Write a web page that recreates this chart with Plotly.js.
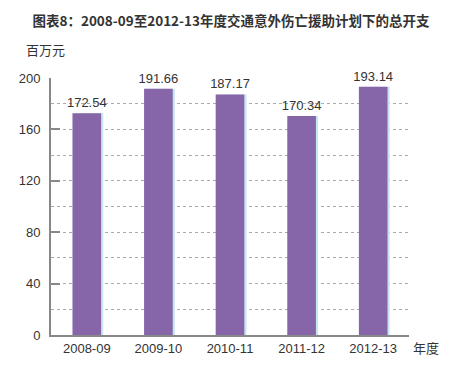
<!DOCTYPE html>
<html><head><meta charset="utf-8">
<script src="https://cdn.plot.ly/plotly-3.0.1.min.js"></script>
<style>body{margin:0;background:#fff}#c{width:462px;height:392px}</style>
</head><body><div id="c"></div>
<script>
const categories = ["2008-09","2009-10","2010-11","2011-12","2012-13"];
const values = [172.54, 191.66, 187.17, 170.34, 193.14];
const labels = ["172.54","191.66","187.17","170.34","193.14"];
const yTicks = [0,40,80,120,160,200];

const font = "Arial, 'Liberation Sans', 'Noto Sans CJK SC', sans-serif";
const traces = [
  {type:"bar", x:categories, y:values, width:0.4, offset:-0.17,
   marker:{color:"#c6e6f0"}, hoverinfo:"skip"},
  {type:"bar", x:categories, y:values, width:0.4, offset:-0.2,
   marker:{color:"#8665a9"}, text:labels, textposition:"outside", constraintext:"none",
   textfont:{size:13, color:"#333"}, cliponaxis:false}
];
const layout = {
  width:462, height:392, showlegend:false, barmode:"overlay",
  margin:{l:51, r:53, t:78, b:57},
  paper_bgcolor:"#fff", plot_bgcolor:"#fff",
  font:{family:font, color:"#333", size:13},
  title:{text:"<b>图表8：2008-09至2012-13年度交通意外伤亡援助计划下的总开支</b>", x:0.5, xanchor:"center", y:0.945, yanchor:"middle", font:{size:13.5, color:"#333", family:"'Noto Sans CJK SC', sans-serif"}},
  xaxis:{type:"category", showline:true, linecolor:"#888", linewidth:2, ticks:"", tickfont:{size:13, color:"#333"}, showgrid:false, zeroline:false, range:[-0.5,4.5]},
  yaxis:{range:[0,200], tickvals:yTicks, ticks:"inside", ticklen:9, tickwidth:2, tickcolor:"#888",
    showline:true, linecolor:"#888", linewidth:2, showgrid:true, gridcolor:"#aaa", griddash:"dot", gridwidth:1,
    minor:{dtick:20, tick0:0, showgrid:true, gridcolor:"#aaa", griddash:"dot", gridwidth:1, ticks:""},
    zeroline:false, tickfont:{size:13, color:"#333"}, ticklabelstandoff:6},
  annotations:[
    {text:"百万元", xref:"paper", yref:"paper", x:-0.075, y:1.11, xanchor:"left", yanchor:"middle", showarrow:false, font:{size:13, color:"#333", family:"'Noto Sans CJK SC', sans-serif"}},
    {text:"年度", xref:"paper", yref:"paper", x:1.005, y:-0.048, xanchor:"left", yanchor:"middle", showarrow:false, font:{size:13, color:"#333", family:"'Noto Sans CJK SC', sans-serif"}}
  ]
};
Plotly.newPlot("c", traces, layout, {displayModeBar:false, staticPlot:true});
</script></body></html>
